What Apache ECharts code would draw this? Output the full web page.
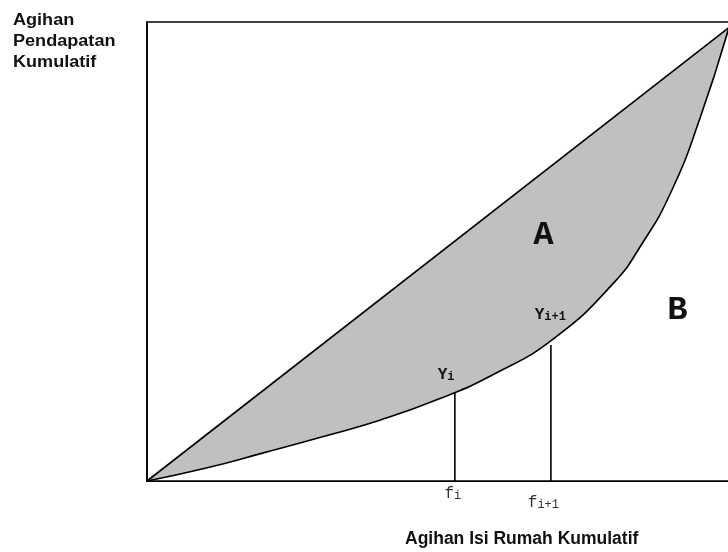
<!DOCTYPE html>
<html>
<head>
<meta charset="utf-8">
<script src="https://cdn.jsdelivr.net/npm/echarts@6/dist/echarts.min.js"></script>
<style>html,body{margin:0;padding:0;background:#fff}#c{width:728px;height:552px}</style>
</head>
<body>
<div id="c"></div>
<script>
// Lorenz curve (cumulative households share vs cumulative income share)
const curveX = [0, 0.1, 0.2, 0.3, 0.4, 0.5, 0.6, 0.7, 0.8, 0.85, 0.9, 0.95, 1];
const curveY = [0, 0.028, 0.062, 0.097, 0.134, 0.180, 0.238, 0.315, 0.434, 0.522, 0.636, 0.799, 1];
const equalityX = [0, 1];
const equalityY = [0, 1];
const fValues = [0.529, 0.694];         // f_i, f_{i+1}
const fHeights = [0.195, 0.300];        // drop lines up to Y_i, Y_{i+1}
const fLabels = ['{f|f}{s|i}', '{f2|f}{s2|i+1}'];
const xTitle = 'Agihan Isi Rumah Kumulatif';
const yTitle = ['Agihan', 'Pendapatan', 'Kumulatif'];
const annotations = [
  {name: 'Yi', coord: [0.514, 0.234], text: '{b|Y}{s|i}'},
  {name: 'Yi1', coord: [0.693, 0.367], text: '{b|Y}{s|i+1}'},
  {name: 'A', coord: [0.681, 0.542], text: '{big|A}'},
  {name: 'B', coord: [0.9115, 0.377], text: '{big|B}'}
];

const chart = echarts.init(document.getElementById('c'));
const mono = "'Liberation Mono', 'Courier New', monospace";
const richLbl = {
  b: {fontFamily: mono, fontWeight: 'bold', fontSize: 16, color: '#111', verticalAlign: 'bottom'},
  s: {fontFamily: mono, fontWeight: 'bold', fontSize: 12, color: '#111', verticalAlign: 'bottom'},
  big: {fontFamily: mono, fontWeight: 'bold', fontSize: 34, color: '#111'}
};
const pairs = (xs, ys) => xs.map((x, i) => [x, ys[i]]);

const series = [
  {
    name: 'equality', type: 'line', data: pairs(equalityX, equalityY),
    symbol: 'none', lineStyle: {color: '#000', width: 1.6},
    areaStyle: {color: '#c0c0c0', opacity: 1}, z: 2
  },
  {
    name: 'lorenz', type: 'line', data: pairs(curveX, curveY),
    symbol: 'none', smooth: 0.5,
    lineStyle: {color: '#000', width: 1.6},
    areaStyle: {color: '#fff', opacity: 1}, z: 3,
    markPoint: {
      symbol: 'circle', symbolSize: 0, silent: true,
      data: annotations.map(a => ({
        name: a.name, coord: a.coord,
        label: {show: true, position: 'inside', formatter: a.text, rich: richLbl}
      }))
    }
  }
];
fValues.forEach((fx, i) => {
  series.push({
    name: 'drop' + i, type: 'line', data: [[fx, 0], [fx, fHeights[i]]],
    symbol: 'none', lineStyle: {color: '#000', width: 1.6}, z: 4
  });
});

chart.setOption({
  animation: false,
  backgroundColor: '#fff',
  grid: {left: 147, top: 22, right: -1, bottom: 71, containLabel: false, outerBoundsMode: 'none',
         show: true, borderColor: '#000', borderWidth: 1.6, backgroundColor: 'transparent', z: 10},
  xAxis: {
    type: 'value', min: 0, max: 1,
    axisLine: {show: true, onZero: false, lineStyle: {color: '#000', width: 2}},
    axisTick: {show: false},
    splitLine: {show: false},
    axisLabel: {
      show: true, customValues: fValues, margin: 5,
      formatter: (v) => fLabels[fValues.indexOf(v)] || '',
      rich: {
        f: {fontFamily: mono, fontSize: 16, color: '#333', verticalAlign: 'bottom'},
        s: {fontFamily: mono, fontSize: 12, color: '#333', verticalAlign: 'bottom', padding: [0, 4, 0, 0]},
        f2: {fontFamily: mono, fontSize: 16, color: '#333', verticalAlign: 'bottom', padding: [9, 0, 0, 0]},
        s2: {fontFamily: mono, fontSize: 12, color: '#333', verticalAlign: 'bottom', padding: [9, 15, 0, 0]}
      }
    }
  },
  yAxis: {
    type: 'value', min: 0, max: 1.012,
    axisLine: {show: true, lineStyle: {color: '#000', width: 1.6}},
    axisTick: {show: false}, axisLabel: {show: false}, splitLine: {show: false}
  },
  graphic: [
    {
      type: 'text', x: 13, y: 9.5, scaleX: 1.13,
      style: {
        text: yTitle.join('\n'), font: "bold 16px 'Liberation Sans', Arial, sans-serif",
        lineHeight: 21.3, fill: '#111'
      }
    },
    {
      type: 'text', x: 405, y: 539.5,
      style: {
        text: xTitle, font: "bold 17.5px 'Liberation Sans', Arial, sans-serif",
        verticalAlign: 'middle', align: 'left', fill: '#111'
      }
    }
  ],
  series: series
});
</script>
</body>
</html>
